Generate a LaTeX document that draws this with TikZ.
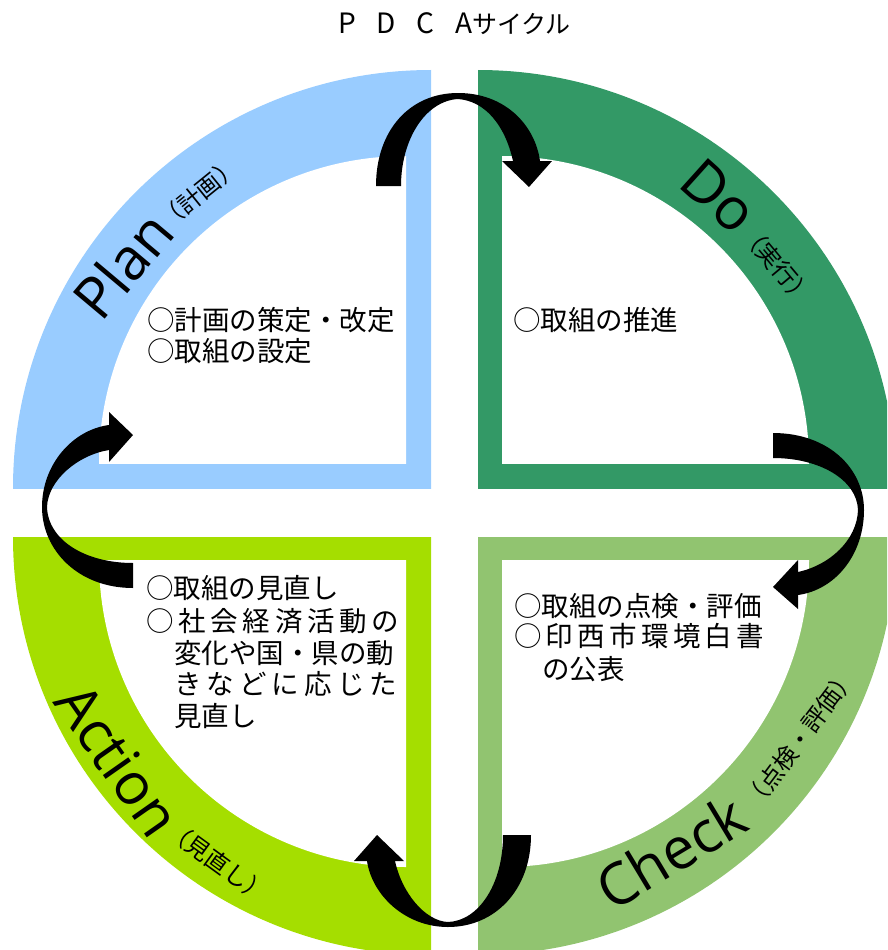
\documentclass[tikz,border=0pt]{standalone}
\usepackage{fontspec}
\setmainfont{Noto Sans CJK JP}
\newfontfamily\lat{Open Sans}
\definecolor{planc}{HTML}{99CCFF}
\definecolor{doc}{HTML}{339966}
\definecolor{checkc}{HTML}{91C470}
\definecolor{actc}{HTML}{A5DE00}
\begin{document}
\begin{tikzpicture}[x=1pt,y=-1pt,
  body/.style={anchor=base west,inner sep=0pt,font=\fontsize{27.5}{27.5}\selectfont},
  big/.style={inner sep=0pt,font=\lat\fontsize{58}{58}\selectfont},
  paren/.style={inner sep=0pt,font=\fontsize{24}{24}\selectfont},
  blockarrow/.style={fill=black}]
\useasboundingbox (0,0) rectangle (887,950);
\clip (0,0) rectangle (887,950);
% outer quarter disks
\begin{scope}\clip (0,60) rectangle (431,488); \fill[planc] (431,488) circle[radius=418pt];\end{scope}
\begin{scope}\clip (478,60) rectangle (900,488); \fill[doc] (478,488) circle[radius=418pt];\end{scope}
\begin{scope}\clip (478,537) rectangle (900,960); \fill[checkc] (478,537) circle[radius=418pt];\end{scope}
\begin{scope}\clip (0,537) rectangle (431,960); \fill[actc] (431,537) circle[radius=418pt];\end{scope}
% inner white quarter disks
\begin{scope}\clip (90,150) rectangle (406,463); \fill[white] (406,463) circle[radius=307pt];\end{scope}
\begin{scope}\clip (502,150) rectangle (820,463); \fill[white] (502,463) circle[radius=307pt];\end{scope}
\begin{scope}\clip (502,560) rectangle (820,880); \fill[white] (502,560) circle[radius=307pt];\end{scope}
\begin{scope}\clip (90,560) rectangle (406,880); \fill[white] (406,560) circle[radius=307pt];\end{scope}
% title
\node[inner sep=0pt,anchor=base west] (title) at (338,34)
  {\fontsize{28}{28}\selectfont\makebox[134pt][s]{P\hfill D\hfill C\hfill A}\fontsize{25}{25}\selectfont サイクル};
% band labels
\node[big,rotate=50] (plan) at (123,265) {Plan};
\node[paren,rotate=39] (planj) at (199,193) {（計画）};
\node[big,rotate=-42] (do) at (719,196) {Do};
\node[paren,rotate=-50] (doj) at (777,265) {（実行）};
\node[big,rotate=31] (check) at (671,852) {Check};
\node[paren,rotate=53] (checkj) at (800,739) {（点検・評価）};
\node[big,rotate=-55] (action) at (118,760) {Action};
\node[paren,rotate=-36] (actionj) at (218,862) {（見直し）};
% body texts
\node[body] (p1) at (147,330) {○計画の策定・改定};
\node[body] (p2) at (147,361) {○取組の設定};
\node[body] (d1) at (513,330) {○取組の推進};
\node[body] (a1) at (146,598.5) {○取組の見直し};
\node[body] (a2) at (146,631.5) {\makebox[253pt][s]{○\hfill 社\hfill 会\hfill 経\hfill 済\hfill 活\hfill 動\hfill の}};
\node[body] (a3) at (174,663) {変化や国・県の動};
\node[body] (a4) at (174,694.5) {\makebox[223pt][s]{き\hfill な\hfill ど\hfill に\hfill 応\hfill じ\hfill た}};
\node[body] (a5) at (174,726.5) {見直し};
\node[body] (c1) at (514,616.5) {○取組の点検・評価};
\node[body] (c2) at (514,646.5) {\makebox[250pt][s]{○\hfill 印\hfill 西\hfill 市\hfill 環\hfill 境\hfill 白\hfill 書}};
\node[body] (c3) at (542,679.5) {の公表};
% curved block arrows
\fill[blockarrow] (376,186) .. controls (376,130) and (410,93) .. (458,93)
  .. controls (505,93) and (535,125) .. (540,161) -- (552,161) -- (529,187) -- (502,161) -- (513,161)
  .. controls (505,125) and (485,101) .. (458,99) .. controls (425,101) and (401,140) .. (401,186) -- cycle;
\fill[blockarrow] (773,433) .. controls (828,433) and (864,468) .. (864,510)
  .. controls (864,555) and (835,590) .. (798,595) -- (798,609) -- (773,587) -- (798,560) -- (798,572)
  .. controls (830,565) and (857,540) .. (858,510) .. controls (857,480) and (820,458) .. (773,458) -- cycle;
\fill[blockarrow] (531,835) .. controls (531,890) and (495,927) .. (448,927)
  .. controls (405,927) and (372,895) .. (367,861) -- (354,861) -- (377,835) -- (404,861) -- (395,861)
  .. controls (402,893) and (425,921) .. (448,922) .. controls (478,921) and (503,885) .. (503,835) -- cycle;
\fill[blockarrow] (133,588) .. controls (78,588) and (42,550) .. (42,507)
  .. controls (42,465) and (72,430) .. (109,425) -- (109,412) -- (133,435) -- (109,462) -- (109,450)
  .. controls (78,455) and (48,480) .. (47,507) .. controls (48,540) and (85,563) .. (133,563) -- cycle;
\end{tikzpicture}
\end{document}
